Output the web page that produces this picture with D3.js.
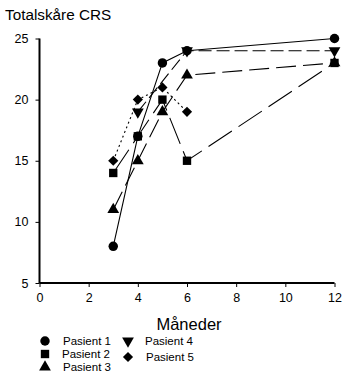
<!DOCTYPE html>
<html><head><meta charset="utf-8">
<script src="https://cdn.jsdelivr.net/npm/d3@7"></script>
<style>body{margin:0;background:#fff}svg{display:block}text{font-family:Arial,"Liberation Sans",sans-serif;fill:#000}</style>
</head><body><div id="chart"></div>
<script>
const months = [3, 4, 5, 6, 12];
const pasient1 = [8, 17, 23, 24, 25];
const pasient2 = [14, 17, 20, 15, 23];
const pasient3 = [11, 15, 19, 22, 23];
const pasient4 = [null, 19, null, 24, 24];
const pasient5 = [15, 20, 21, 19, null];
const seriesNames = ["Pasient 1", "Pasient 2", "Pasient 3", "Pasient 4", "Pasient 5"];
const xTicks = [0, 2, 4, 6, 8, 10, 12];
const yTicks = [5, 10, 15, 20, 25];

const W = 351, H = 377;
const svg = d3.select("#chart").append("svg").attr("width", W).attr("height", H);
const x = d3.scaleLinear().domain([0, 12]).range([39.5, 334.5]);
const y = d3.scaleLinear().domain([5, 25]).range([283, 38.5]);

svg.append("text").attr("x", 5).attr("y", 20).attr("font-size", 15.3).text("Totalskåre CRS");

const xa = svg.append("g").attr("transform", `translate(0,${y(5)})`)
  .call(d3.axisBottom(x).tickValues(xTicks).tickSize(4).tickPadding(6).tickFormat(d3.format("d")));
xa.select(".domain").attr("stroke-width", 2).attr("d", `M${x(0)},0H${x(12)}`);
xa.selectAll("text").attr("font-size", 12.5).attr("font-family", "Arial, Liberation Sans, sans-serif");

const ya = svg.append("g").attr("transform", `translate(${x(0)},0)`)
  .call(d3.axisLeft(y).tickValues(yTicks).tickSize(4).tickPadding(7).tickFormat(d3.format("d")));
ya.select(".domain").attr("stroke-width", 2).attr("d", `M0,${y(25)}V${y(5)}`);
ya.selectAll("text").attr("font-size", 12.5).attr("font-family", "Arial, Liberation Sans, sans-serif");

svg.append("text").attr("x", 189).attr("y", 330).attr("text-anchor", "middle").attr("font-size", 16.5).text("Måneder");

const all = [pasient1, pasient2, pasient3, pasient4, pasient5];
const dashes = [null, "28,8", "20,7", "13,5", "2,3"];
const symbols = [d3.symbolCircle, d3.symbolSquare, d3.symbolTriangle, "tdown", "diamond"];
const symSize = [70, 70, 60, 60, 52];
function sym(i) {
  if (symbols[i] === "tdown") return d3.symbol(d3.symbolTriangle, symSize[i])();
  if (symbols[i] === "diamond") return d3.symbol(d3.symbolSquare, symSize[i])();
  return d3.symbol(symbols[i], symSize[i])();
}
function symT(i) {
  if (symbols[i] === "tdown") return " rotate(180)";
  if (symbols[i] === "diamond") return " rotate(45)";
  return "";
}

const line = d3.line().x(d => x(d[0])).y(d => y(d[1]));
all.forEach((vals, i) => {
  const pts = months.map((m, j) => [m, vals[j]]).filter(d => d[1] != null);
  svg.append("path").attr("d", line(pts)).attr("fill", "none").attr("stroke", "#000")
    .attr("stroke-width", 1.1).attr("stroke-dasharray", dashes[i]);
});
all.forEach((vals, i) => {
  const pts = months.map((m, j) => [m, vals[j]]).filter(d => d[1] != null);
  svg.selectAll(null).data(pts).enter().append("path")
    .attr("d", sym(i)).attr("fill", "#000")
    .attr("transform", d => `translate(${x(d[0])},${y(d[1])})${symT(i)}`);
});

const legPos = [[45, 63, 341], [45, 62, 354], [45, 63, 367], [128, 145, 341], [128, 146, 357]];
seriesNames.forEach((n, i) => {
  const [mx, tx, ty] = legPos[i];
  svg.append("path").attr("d", sym(i)).attr("fill", "#000")
    .attr("transform", `translate(${mx},${ty})${symT(i)}`);
  svg.append("text").attr("x", tx).attr("y", ty + 4).attr("font-size", 11.5).text(n);
});
</script></body></html>
